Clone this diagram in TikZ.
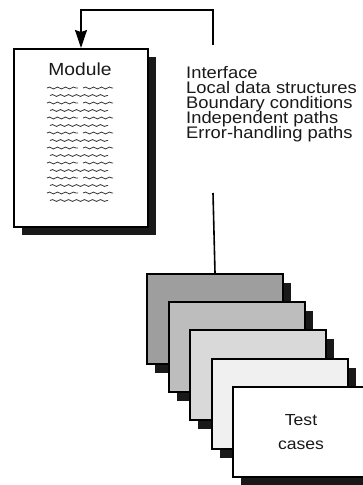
\documentclass[tikz,border=0pt]{standalone}
\usepackage{fontspec}
\newfontfamily\fut[FakeStretch=1.1]{Liberation Sans}
\usetikzlibrary{shadows,arrows.meta,decorations.pathmorphing}
\begin{document}
\begin{tikzpicture}[x=1pt,y=-1pt,
  page/.style={draw=black, line width=2pt, fill=white, inner sep=0pt, anchor=north west,
    minimum width=134pt, minimum height=178pt,
    drop shadow={shadow xshift=8pt, shadow yshift=-8pt, opacity=1, fill=black!90}},
  card/.style={draw=black, line width=2pt, inner sep=0pt, anchor=north west,
    minimum width=136pt, minimum height=90pt,
    drop shadow={shadow xshift=8pt, shadow yshift=-9pt, opacity=1, fill=black!90}},
  lbl/.style={font=\fut\fontsize{16.7}{15.2}\selectfont, text=black!90, anchor=base west, inner sep=0pt},
  conn/.style={line width=1.6pt, draw=black},
  wave/.style={draw=black!75, line width=0.85pt, decorate,
    decoration={snake, amplitude=0.9pt, segment length=8pt}}
]
\path[use as bounding box] (0,0) rectangle (363,485);
\clip (0,0) rectangle (363,485);

% module page
\node[page] (module) at (13,48) {};
\node[font=\fut\fontsize{17.5}{20}\selectfont, text=black!90, anchor=base, inner sep=0pt] (mtitle) at (80,75) {Module};
\foreach \i in {0,...,15} {
  \pgfmathsetmacro\yy{88+7.5*\i}
  \ifodd\i
    \draw[wave] (50,\yy) -- (108,\yy);
  \else
    \draw[wave] (47,\yy) -- (78,\yy);
    \draw[wave] (83,\yy) -- (113,\yy);
  \fi
}

% list
\node[lbl] (l1) at (186,78) {Interface};
\node[lbl] (l2) at (186,93.2) {Local data structures};
\node[lbl] (l3) at (186,108.4) {Boundary conditions};
\node[lbl] (l4) at (186,123.6) {Independent paths};
\node[lbl] (l5) at (186,138.8) {Error-handling paths};

% test case cards
\node[card, fill=black!38] (card1) at (146,273) {};
\node[card, fill=black!26] (card2) at (167.5,301.2) {};
\node[card, fill=black!15] (card3) at (189,329.4) {};
\node[card, fill=black!6] (card4) at (210.5,357.6) {};
\node[card, fill=white, align=center, text=black!90, text depth=-6pt,
  font=\fut\fontsize{16}{24}\selectfont] (card5) at (232,385.8) {Test\\cases};

% connectors
\coordinate (t1) at (213,45);
\coordinate (c) at (213,10);
\coordinate (t2) at (213,193);
\draw[conn, -{Stealth[length=18pt,width=12pt,inset=2pt]}] (t1) -- (c) -| (module.north);
\draw[conn] (t2) -- (card1.north);
\end{tikzpicture}
\end{document}
